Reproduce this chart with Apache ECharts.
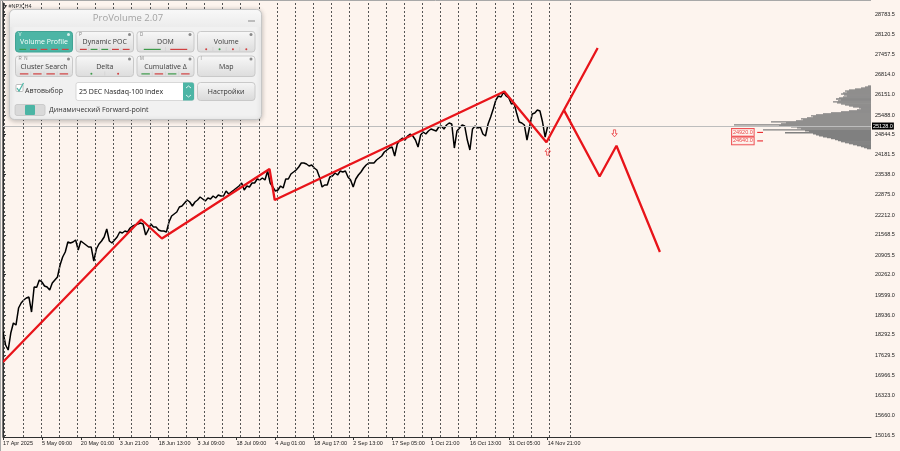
<!DOCTYPE html>
<html><head><meta charset="utf-8">
<script src="https://cdn.jsdelivr.net/npm/echarts@6/dist/echarts.min.js"></script>
<style>html,body{margin:0;padding:0;background:#fdf4ee}#c{width:900px;height:451px}</style>
</head><body><div id="c"></div>
<script>
// ---------- DATA ----------
const xLabels = ['17 Apr 2025','5 May 09:00','20 May 01:00','3 Jun 21:00','18 Jun 13:00','3 Jul 09:00','18 Jul 09:00','4 Aug 01:00','18 Aug 17:00','2 Sep 13:00','17 Sep 05:00','1 Oct 21:00','16 Oct 13:00','31 Oct 05:00','14 Nov 21:00'];
const labelStep = 60;      // H4 bars between time labels
const gridStep = 28;       // H4 bars between dotted grid lines
const gridOffset = 2.5;
const gridCount = 31;
const extraGridBar = 875;
const yTicks = [28783.5,28120.5,27457.5,26814.0,26151.0,25488.0,24844.5,24181.5,23538.0,22875.0,22212.0,21568.5,20905.5,20262.0,19599.0,18936.0,18292.5,17629.5,16966.5,16323.0,15660.0,15016.5];
const sampleStep = 4;      // one value every 4 H4 bars
const priceValues = [
 18388,17963,17799,18355,18682,18617,19173,19337,19435,19500,
 19533,19042,19860,19850,20089,20024,19893,19860,19762,19991,
 20089,20188,20580,20842,21006,21333,21300,21333,21398,21071,
 21365,21300,21235,21169,21169,20711,21104,21267,21365,21496,
 21758,21365,21300,21398,21496,21660,21627,21693,21660,21791,
 21856,21889,21922,21954,21922,21562,21725,21922,21824,21824,
 21725,21693,21693,21660,21987,22183,22249,22314,22478,22511,
 22609,22707,22642,22511,22642,22707,22805,22740,22674,22772,
 22740,22838,22772,22871,22838,22838,23002,22903,22969,23034,
 23100,23165,23263,23034,23165,23132,23263,23263,23394,23361,
 23427,23361,23656,23263,23132,23002,23034,23165,23100,23394,
 23394,23558,23623,23689,23787,23918,23918,23885,23819,23852,
 23754,23689,23460,23132,23198,23198,23460,23492,23590,23525,
 23656,23623,23656,23460,23361,23132,23394,23525,23623,23754,
 23852,23918,23918,23918,24016,24081,24147,24278,24343,24408,
 24441,24147,24539,24670,24736,24670,24801,24866,24801,24670,
 24441,24834,24932,24866,24965,25030,24997,24965,25096,25128,
 25030,25161,25226,25194,24408,24965,25063,25161,25128,24670,
 24343,25030,25128,25063,25096,24866,24801,25194,25423,25685,
 25979,26110,26077,26241,26110,26044,25848,25881,25554,25259,
 25226,25161,24670,25096,25521,25554,25652,25619,25259,24768,
 25128];
const currentPrice = 25128.0;
const zigzagBars   = [0, 213, 245, 411, 419, 773, 838, 917];
const zigzagPrices = [17406, 22069, 21447, 23721, 22707, 26257, 24595, 27680];
const forecastBars   = [865, 920, 946, 1013];
const forecastPrices = [25649, 23476, 24484, 21006];
const downArrow = [943, 24889];
const upArrow = [840, 24287];
const levelPrices = [24920.0, 24640.0];
const levelLabelBar = 1124;
const levelStubBars = [1163, 1172];
const profileTop = 26440;
const profileStep = 32.5;
const profileVolumes = [30,60,100,160,220,260,240,280,300,270,240,280,320,350,300,330,380,340,300,260,220,180,120,100,140,220,300,400,480,550,600,580,640,700,680,750,1000,850,900,1370,920,800,740,700,1080,660,620,860,580,550,520,480,440,400,360,330,300,260,220,180,140,100,70,40];

// ---------- CHART ----------
const RED = '#e8141a';
const TEAL = '#4cb5a5';
const AX = '#303030';
const labelBars = xLabels.map((_, j) => j * labelStep);
const gridBars = [];
for (let k = 0; k < gridCount; k++) gridBars.push(gridOffset + k * gridStep);
gridBars.push(extraGridBar);

const chart = echarts.init(document.getElementById('c'), null, {renderer: 'canvas'});

function renderProfile(params, api) {
  const vol = api.value(0), price = api.value(1);
  const a = api.coord([0, price]);
  const b = api.coord([vol, price]);
  const h = Math.abs(api.size([0, profileStep])[1]);
  return {type: 'rect', shape: {x: b[0], y: a[1] - h / 2, width: a[0] - b[0], height: h + 0.3},
    style: {fill: '#808080'}};
}

// ---------- ProVolume panel (UI overlay) ----------
const g = [];
g.push({type:'line', z:90, shape:{x1:0.5,y1:0,x2:0.5,y2:451}, style:{stroke:'#a8a8a8',lineWidth:1}});
g.push({type:'line', z:90, shape:{x1:2.5,y1:0,x2:2.5,y2:437}, style:{stroke:'#7a7a7a',lineWidth:1}});
g.push({type:'line', z:90, shape:{x1:0,y1:0.5,x2:871,y2:0.5}, style:{stroke:'#a8a8a8',lineWidth:1}});
g.push({type:'text', z:90, style:{x:4, y:6, text:'▾ #NPX,H4', fill:'#333', font:'5.5px "Liberation Sans"', textVerticalAlign:'middle'}});

g.push({type:'rect', z:100, shape:{x:9.5,y:9.5,width:252,height:110,r:5},
  style:{fill:'#f1f1f1', stroke:'#c6c6c6', lineWidth:1, shadowBlur:5, shadowColor:'rgba(0,0,0,0.25)', shadowOffsetY:1}});
g.push({type:'rect', z:100, shape:{x:10,y:10,width:251,height:17,r:[5,5,0,0]},
  style:{fill:new echarts.graphic.LinearGradient(0,0,0,1,[{offset:0,color:'#f8f8f8'},{offset:1,color:'#ececec'}])}});
g.push({type:'text', z:102, style:{x:128, y:18.5, text:'ProVolume 2.07', fill:'#a3a3a3', font:'9.5px "Open Sans"', textAlign:'center', textVerticalAlign:'middle'}});
g.push({type:'line', z:102, shape:{x1:248,y1:21,x2:255,y2:21}, style:{stroke:'#9a9a9a',lineWidth:1.2}});

const GR='#3d9a4a', RD='#d04040';
const buttons = [
  {x:15.5,y:31.5,w:57,h:20.5,label:'Volume Profile',key:'V',active:true,marks:['d:'+GR,'d:'+RD,'d:'+RD,'d:'+RD,'d:'+RD]},
  {x:76,y:31.5,w:57.5,h:20.5,label:'Dynamic POC',key:'P',marks:['d:'+RD,'d:'+GR,'d:'+GR,'d:'+RD,'d:'+RD]},
  {x:137,y:31.5,w:57,h:20.5,label:'DOM',key:'D',marks:['d:'+GR,'d:'+RD]},
  {x:197.5,y:31.5,w:57.5,h:20.5,label:'Volume',key:'',marks:['o:'+RD,'o:'+GR,'o:'+RD,'o:'+RD]},
  {x:15.5,y:56,w:57,h:20.5,label:'Cluster Search',key:'R  N',marks:['d:'+RD,'d:'+RD,'d:'+RD,'d:'+RD]},
  {x:76,y:56,w:57.5,h:20.5,label:'Delta',key:'',marks:['o:'+GR,'o:'+RD]},
  {x:137,y:56,w:57,h:20.5,label:'Cumulative Δ',key:'M',marks:['d:'+GR,'d:'+RD,'d:'+GR,'d:'+RD]},
  {x:197.5,y:56,w:57.5,h:20.5,label:'Map',key:'I',marks:[]}
];
buttons.forEach(b => {
  g.push({type:'rect', z:101, shape:{x:b.x,y:b.y,width:b.w,height:b.h,r:3},
    style:{fill: b.active ? TEAL : new echarts.graphic.LinearGradient(0,0,0,1,[{offset:0,color:'#f8f8f8'},{offset:1,color:'#dcdcdc'}]),
      stroke: b.active ? '#41a394' : '#c9c9c9', lineWidth:1}});
  g.push({type:'text', z:102, style:{x:b.x+b.w/2, y:b.y+b.h/2+0.5, text:b.label, fill:b.active?'#ffffff':'#3a3a3a',
    font:'7px "Open Sans"', textAlign:'center', textVerticalAlign:'middle'}});
  if (b.key) g.push({type:'text', z:102, style:{x:b.x+3, y:b.y+3, text:b.key, fill:b.active?'#e0f4f0':'#888', font:'4.5px "Liberation Sans"', textVerticalAlign:'middle'}});
  g.push({type:'circle', z:102, shape:{cx:b.x+b.w-4, cy:b.y+3, r:1.5}, style:{fill:b.active?'#d8efeb':'#8a8a8a'}});
  const n = b.marks.length;
  if (n) {
    const seg = (b.w - 4) / n;
    b.marks.forEach((m, i) => {
      const [t, c] = m.split(':');
      const cx = b.x + 2 + seg * (i + 0.5);
      if (t === 'd') g.push({type:'rect', z:102, shape:{x:cx-seg*0.32, y:b.y+b.h-3.2, width:seg*0.64, height:1.2}, style:{fill:c}});
      else g.push({type:'circle', z:102, shape:{cx:cx, cy:b.y+b.h-2.8, r:1}, style:{fill:c}});
      if (i > 0 && !b.active) g.push({type:'line', z:102, shape:{x1:b.x+2+seg*i, y1:b.y+b.h-5, x2:b.x+2+seg*i, y2:b.y+b.h-1}, style:{stroke:'#d0d0d0', lineWidth:0.6}});
    });
  }
});
// row 3
g.push({type:'rect', z:101, shape:{x:16,y:84.5,width:7,height:7,r:1}, style:{fill:'#fff', stroke:'#b0b0b0', lineWidth:0.8}});
g.push({type:'polyline', z:102, shape:{points:[[17,88],[19,91],[23.5,83]]}, style:{stroke:TEAL, lineWidth:1.2, fill:null}});
g.push({type:'text', z:102, style:{x:25, y:90.5, text:'Автовыбор', fill:'#333', font:'7px "Open Sans"', textVerticalAlign:'middle'}});
g.push({type:'rect', z:101, shape:{x:76,y:82.5,width:118,height:18,r:2}, style:{fill:'#ffffff', stroke:'#cfcfcf', lineWidth:0.8}});
g.push({type:'text', z:102, style:{x:79, y:91.5, text:'25 DEC Nasdaq-100 Index', fill:'#222', font:'7px "Open Sans"', textVerticalAlign:'middle'}});
g.push({type:'rect', z:102, shape:{x:183,y:82.5,width:11,height:18,r:[0,2,2,0]}, style:{fill:TEAL}});
g.push({type:'polyline', z:103, shape:{points:[[186,88],[188.5,86],[191,88]]}, style:{stroke:'#fff', lineWidth:0.8, fill:null}});
g.push({type:'polyline', z:103, shape:{points:[[186,95],[188.5,97],[191,95]]}, style:{stroke:'#fff', lineWidth:0.8, fill:null}});
g.push({type:'rect', z:101, shape:{x:197.5,y:82.5,width:57.5,height:18,r:3},
  style:{fill:new echarts.graphic.LinearGradient(0,0,0,1,[{offset:0,color:'#f6f6f6'},{offset:1,color:'#d9d9d9'}]), stroke:'#c9c9c9', lineWidth:1}});
g.push({type:'text', z:102, style:{x:226.2, y:91.5, text:'Настройки', fill:'#333', font:'7px "Open Sans"', textAlign:'center', textVerticalAlign:'middle'}});
// row 4
g.push({type:'rect', z:101, shape:{x:15,y:104.5,width:30,height:11,r:2}, style:{fill:'#d9d9d9', stroke:'#c4c4c4', lineWidth:0.8}});
g.push({type:'rect', z:102, shape:{x:25,y:105,width:10,height:10,r:1}, style:{fill:TEAL}});
g.push({type:'text', z:102, style:{x:49, y:110.3, text:'Динамический Forward-point', fill:'#333', font:'7px "Open Sans"', textVerticalAlign:'middle'}});

const labelFont = {fontSize: 5.5, fontFamily: 'Liberation Sans', color: '#1a1a1a'};

chart.setOption({
  backgroundColor: '#fdf4ee',
  animation: false,
  grid: {left: 3, right: 29, top: 3, bottom: 14},
  xAxis: [{
    type: 'value', min: 0, max: 1338.5, position: 'bottom',
    axisLine: {show: true, onZero: false, lineStyle: {color: AX, width: 1}},
    axisTick: {show: true, customValues: labelBars, length: 3, lineStyle: {color: AX}},
    axisLabel: Object.assign({customValues: labelBars, align: 'left', margin: 3,
      formatter: v => xLabels[Math.round(v / labelStep)] || ''}, labelFont),
    splitLine: {show: false}
  }, {
    type: 'value', min: 0, max: 8680, inverse: true, show: false
  }],
  yAxis: [{
    type: 'value', position: 'right', min: 14952.8, max: 29153.2, scale: true,
    axisLine: {show: true, lineStyle: {color: AX, width: 1}},
    axisTick: {show: true, customValues: yTicks, length: 3, lineStyle: {color: AX}},
    axisLabel: Object.assign({customValues: yTicks, margin: 4, formatter: v => v.toFixed(1)}, labelFont),
    splitLine: {show: false}
  }],
  graphic: {elements: g},
  series: [
    {
      type: 'line', data: [], silent: true, z: 1,
      markLine: {silent: true, symbol: ['none', 'none'], animation: false, label: {show: false},
        lineStyle: {color: '#555555', type: [2, 2], width: 1},
        data: gridBars.map(b => ({xAxis: b}))}
    },
    {
      type: 'custom', xAxisIndex: 1, yAxisIndex: 0, z: 2, silent: true,
      renderItem: renderProfile,
      data: profileVolumes.map((v, i) => [v, profileTop - i * profileStep])
    },
    {
      type: 'line', z: 3, showSymbol: false, silent: true,
      data: priceValues.map((v, i) => [i * sampleStep, v]),
      lineStyle: {color: '#000', width: 1.5},
      markLine: {silent: true, symbol: ['none', 'none'], animation: false,
        data: [{yAxis: currentPrice}],
        lineStyle: {color: '#bdbdbd', type: 'solid', width: 1},
        label: {show: true, position: 'end', distance: 1, formatter: currentPrice.toFixed(1),
          color: '#fff', backgroundColor: '#000', padding: [1, 1, 0, 1], fontSize: 5.5, fontFamily: 'Liberation Sans'}}
    },
    {
      type: 'line', z: 5, showSymbol: false, silent: true,
      data: zigzagBars.map((b, i) => [b, zigzagPrices[i]]),
      lineStyle: {color: RED, width: 2.3}
    },
    {
      type: 'line', z: 5, showSymbol: false, silent: true,
      data: forecastBars.map((b, i) => [b, forecastPrices[i]]),
      lineStyle: {color: RED, width: 2.3}
    },
    {
      type: 'scatter', z: 6, silent: true,
      symbol: 'path://M3,0 L7,0 L7,6 L10,6 L5,11 L0,6 L3,6 Z', symbolKeepAspect: true, symbolSize: [6, 7],
      itemStyle: {color: 'rgba(0,0,0,0)', borderColor: RED, borderWidth: 0.8},
      data: [downArrow]
    },
    {
      type: 'scatter', z: 6, silent: true, symbolRotate: 180,
      symbol: 'path://M3,0 L7,0 L7,6 L10,6 L5,11 L0,6 L3,6 Z', symbolKeepAspect: true, symbolSize: [6, 7],
      itemStyle: {color: 'rgba(0,0,0,0)', borderColor: RED, borderWidth: 0.8},
      data: [upArrow]
    },
    {
      type: 'line', z: 6, showSymbol: false, silent: true,
      data: levelPrices.flatMap((p, i) => (i ? ['-'] : []).concat(levelStubBars.map(b => [b, p]))),
      lineStyle: {color: RED, width: 1}
    },
    {
      type: 'scatter', z: 7, silent: true, symbolSize: 0,
      data: levelPrices.map(p => [levelLabelBar, p]),
      label: {show: true, position: 'right', distance: 0, formatter: p => p.value[1].toFixed(1),
        color: RED, fontSize: 5.5, fontFamily: 'Liberation Sans', borderColor: RED, borderWidth: 0.8,
        backgroundColor: '#fdf4ee', padding: [0.5, 1]}
    }
  ]
});
</script>
</body></html>
